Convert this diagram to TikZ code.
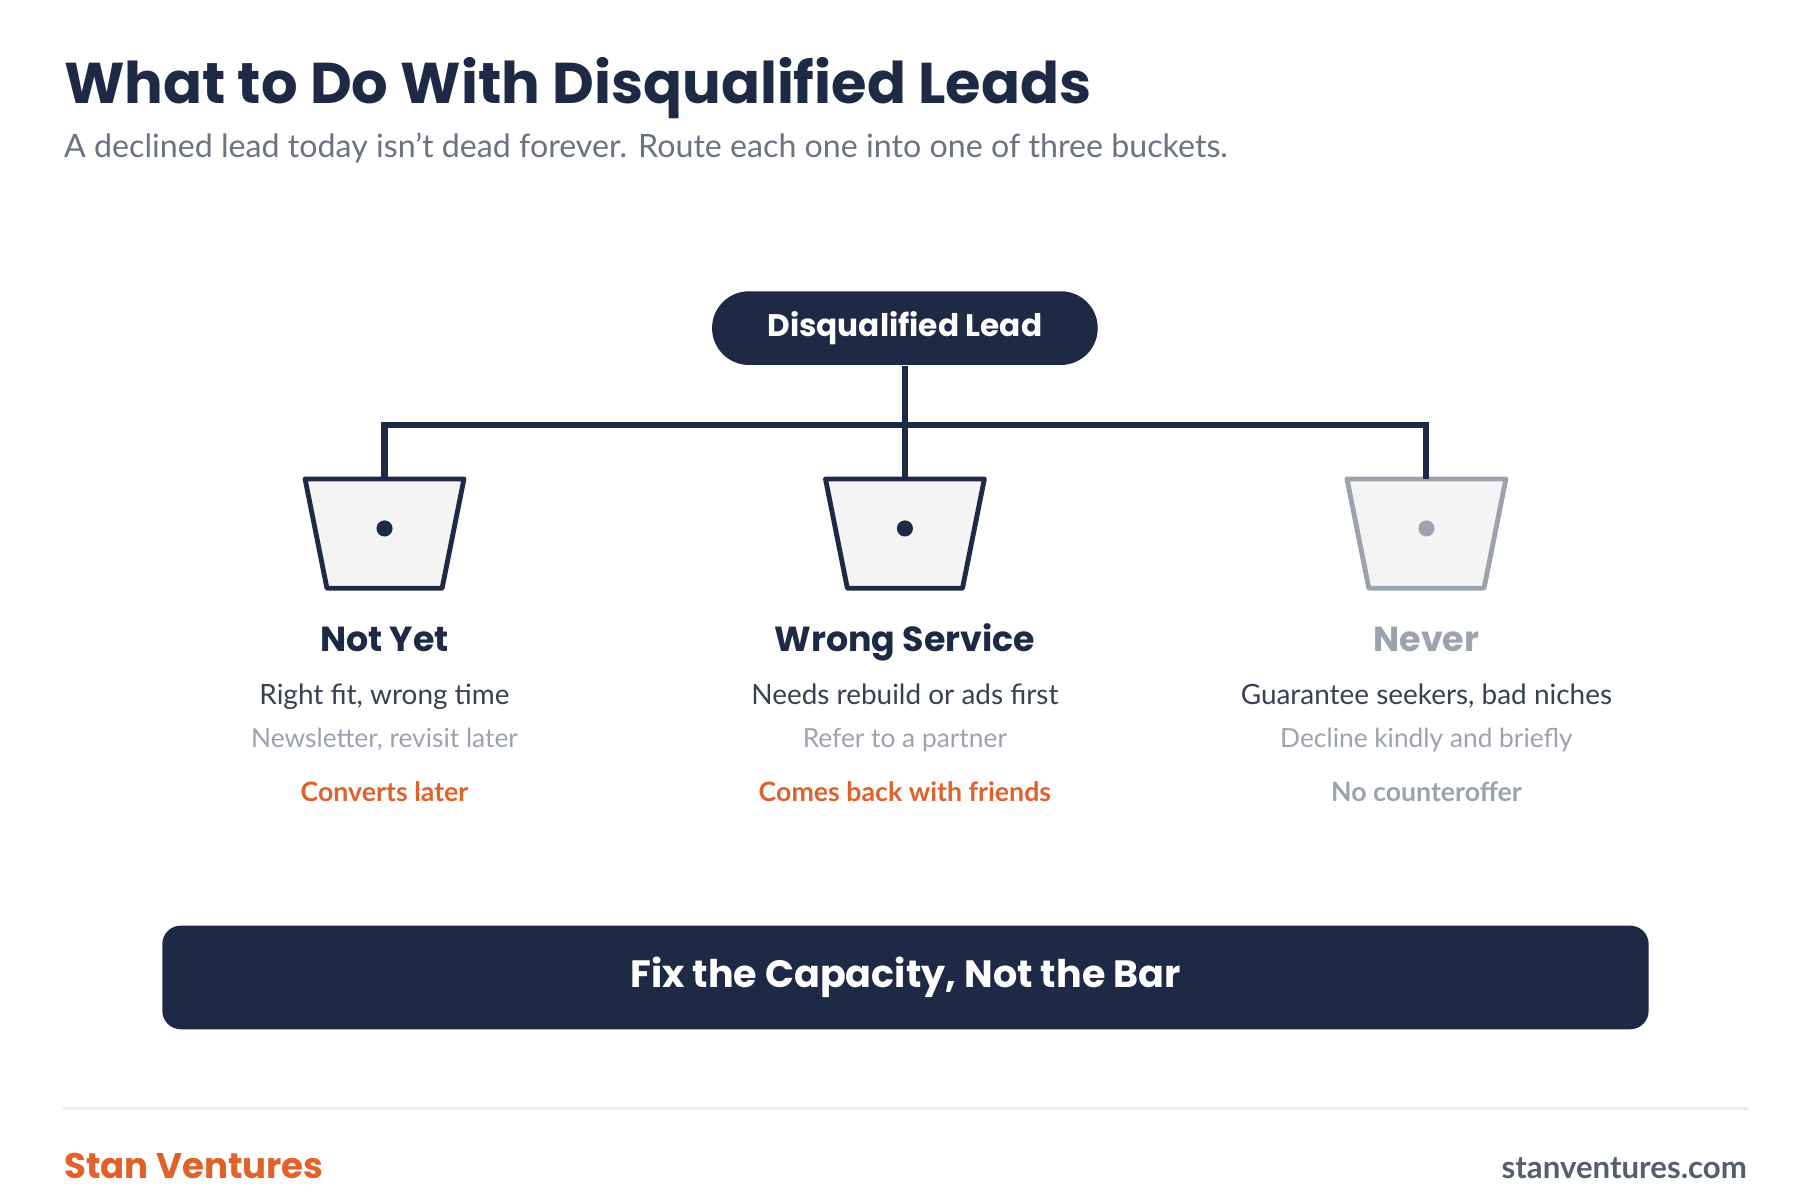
\documentclass[tikz,border=0pt]{standalone}
\usepackage{fontspec}
\setmainfont{Lato}
\newfontfamily\headfont{Poppins}
\newfontfamily\semifont{Lato Semibold}
\definecolor{navy}{HTML}{1E2A45}
\definecolor{orng}{HTML}{E0622A}
\definecolor{gtxt}{HTML}{6B7280}
\definecolor{ltxt}{HTML}{9CA3AF}
\definecolor{dtxt}{HTML}{374151}
\definecolor{bfill}{HTML}{F4F4F5}
\begin{document}
\begin{tikzpicture}[x=0.01cm,y=-0.01cm,
  hd/.style={font=\headfont\fontsize{8.6pt}{10pt}\bfseries},
  l2/.style={font=\fontsize{6.9pt}{8pt}\selectfont,text=dtxt},
  l3/.style={font=\fontsize{6.5pt}{8pt}\selectfont,text=ltxt},
  l4/.style={font=\fontsize{6.6pt}{8pt}\bfseries,text=orng},
  conn/.style={navy,line width=1.5pt}]
\useasboundingbox[fill=white] (0,0) rectangle (1560,1045);
\node[anchor=base west,inner sep=0,font=\headfont\fontsize{14.2pt}{16pt}\bfseries,text=navy] (title) at (55,90) {What to Do With Disqualified Leads};
\node[anchor=base west,inner sep=0,font=\fontsize{7.95pt}{9pt}\selectfont,text=gtxt] (sub) at (55,137) {A declined lead today isn\symbol{39}t dead forever. Route each one into one of three buckets.};
\node[fill=navy,rounded corners=32*0.01cm,minimum width=335*0.01cm,minimum height=64*0.01cm,text=white,font=\headfont\fontsize{7.7pt}{9pt}\bfseries] (root) at (786,285) {Disqualified Lead};
\coordinate (j) at (786,369);
\foreach \x/\n/\c in {334/a/navy,786/b/navy,1239/c/ltxt}{
  \coordinate (\n top) at (\x,416);
  \draw[\c,line width=1.2pt,fill=bfill,line join=round] (\x-69,416) -- (\x+69,416) -- (\x+50,511) -- (\x-50,511) -- cycle;
  \fill[\c] (\x,459) circle (7);
}
\draw[conn] (root.south) -- (j);
\draw[conn] (atop) -- (334,369) -- (1239,369) -- (ctop);
\draw[conn] (j) -- (btop);
\foreach \x/\h/\a/\b/\d/\hc/\dc in {334/Not Yet/{Right fit, wrong time}/{Newsletter, revisit later}/Converts later/navy/orng,
 786/Wrong Service/Needs rebuild or ads first/Refer to a partner/Comes back with friends/navy/orng,
 1239/Never/{Guarantee seekers, bad niches}/Decline kindly and briefly/No counteroffer/ltxt/ltxt}{
  \node[hd,text=\hc,anchor=base] at (\x,566) {\h};
  \node[l2,anchor=base] at (\x,612) {\a};
  \node[l3,anchor=base] at (\x,649) {\b};
  \node[l4,anchor=base,text=\dc] at (\x,696) {\d};
}
\node[fill=navy,rounded corners=16*0.01cm,minimum width=1291*0.01cm,minimum height=90*0.01cm,text=white,font=\headfont\fontsize{9.4pt}{11pt}\bfseries] (banner) at (786.5,849) {Fix the Capacity, Not the Bar};
\draw[gray!15,line width=0.6pt] (55,963) -- (1518,963);
\node[anchor=base west,inner sep=0,font=\headfont\fontsize{8.8pt}{10pt}\bfseries,text=orng] (brand) at (55,1024) {Stan Ventures};
\node[anchor=base east,inner sep=0,font=\fontsize{7.7pt}{9pt}\bfseries,text=dtxt!85] (url) at (1518,1024) {stanventures.com};
\end{tikzpicture}
\end{document}
